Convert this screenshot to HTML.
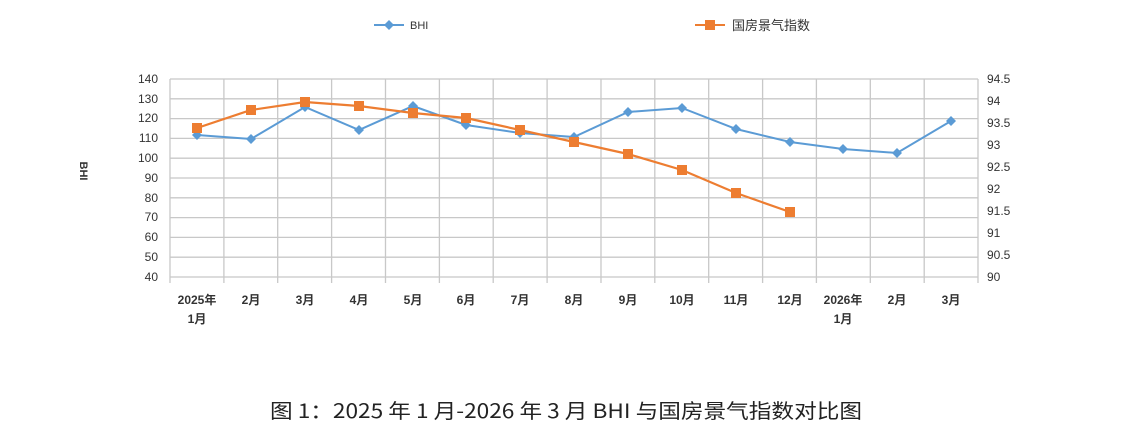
<!DOCTYPE html><html><head><meta charset="utf-8"><style>body{margin:0;background:#fff}</style></head><body>
<svg width="1134" height="438" xmlns="http://www.w3.org/2000/svg" font-family="Liberation Sans, Noto Sans CJK SC, sans-serif">
<rect width="1134" height="438" fill="#fff"/>
<g stroke="#c8c8c8" stroke-width="1.3">
<line x1="170" y1="79" x2="978" y2="79"/><line x1="170" y1="98.8" x2="978" y2="98.8"/><line x1="170" y1="118.6" x2="978" y2="118.6"/><line x1="170" y1="138.4" x2="978" y2="138.4"/><line x1="170" y1="158.2" x2="978" y2="158.2"/><line x1="170" y1="178" x2="978" y2="178"/><line x1="170" y1="197.8" x2="978" y2="197.8"/><line x1="170" y1="217.6" x2="978" y2="217.6"/><line x1="170" y1="237.4" x2="978" y2="237.4"/><line x1="170" y1="257.2" x2="978" y2="257.2"/><line x1="170" y1="277" x2="978" y2="277"/>
<line x1="170" y1="79" x2="170" y2="283"/><line x1="223.9" y1="79" x2="223.9" y2="283"/><line x1="277.7" y1="79" x2="277.7" y2="283"/><line x1="331.6" y1="79" x2="331.6" y2="283"/><line x1="385.5" y1="79" x2="385.5" y2="283"/><line x1="439.4" y1="79" x2="439.4" y2="283"/><line x1="493.2" y1="79" x2="493.2" y2="283"/><line x1="547.1" y1="79" x2="547.1" y2="283"/><line x1="601" y1="79" x2="601" y2="283"/><line x1="654.8" y1="79" x2="654.8" y2="283"/><line x1="708.7" y1="79" x2="708.7" y2="283"/><line x1="762.6" y1="79" x2="762.6" y2="283"/><line x1="816.4" y1="79" x2="816.4" y2="283"/><line x1="870.3" y1="79" x2="870.3" y2="283"/><line x1="924.2" y1="79" x2="924.2" y2="283"/><line x1="978" y1="79" x2="978" y2="283"/>
</g>
<g font-size="12" fill="#333" text-anchor="end">
<text x="158" y="83">140</text><text x="158" y="103">130</text><text x="158" y="122">120</text><text x="158" y="142">110</text><text x="158" y="162">100</text><text x="158" y="182">90</text><text x="158" y="202">80</text><text x="158" y="221">70</text><text x="158" y="241">60</text><text x="158" y="261">50</text><text x="158" y="281">40</text>
</g>
<g font-size="12" fill="#333">
<text x="987" y="83">94.5</text><text x="987" y="105">94</text><text x="987" y="127">93.5</text><text x="987" y="149">93</text><text x="987" y="171">92.5</text><text x="987" y="193">92</text><text x="987" y="215">91.5</text><text x="987" y="237">91</text><text x="987" y="259">90.5</text><text x="987" y="281">90</text>
</g>
<text x="80" y="171" font-size="11" font-weight="bold" fill="#333" transform="rotate(90 80 171)" text-anchor="middle">BHI</text>
<g font-size="12" fill="#333" text-anchor="middle" font-weight="bold">
<text x="197" y="304">2025年</text><text x="197" y="323">1月</text><text x="251" y="304">2月</text><text x="305" y="304">3月</text><text x="359" y="304">4月</text><text x="413" y="304">5月</text><text x="466" y="304">6月</text><text x="520" y="304">7月</text><text x="574" y="304">8月</text><text x="628" y="304">9月</text><text x="682" y="304">10月</text><text x="736" y="304">11月</text><text x="790" y="304">12月</text><text x="843" y="304">2026年</text><text x="843" y="323">1月</text><text x="897" y="304">2月</text><text x="951" y="304">3月</text>
</g>
<polyline fill="none" stroke="#5b9bd5" stroke-width="2" points="197,135 251,139 305,107 359,130 413,106 466,125 520,133 574,137 628,112 682,108 736,129 790,142 843,149 897,153 951,121"/>
<g fill="#5b9bd5">
<polygon points="197,130 202,135 197,140 192,135"/><polygon points="251,134 256,139 251,144 246,139"/><polygon points="305,102 310,107 305,112 300,107"/><polygon points="359,125 364,130 359,135 354,130"/><polygon points="413,101 418,106 413,111 408,106"/><polygon points="466,120 471,125 466,130 461,125"/><polygon points="520,128 525,133 520,138 515,133"/><polygon points="574,132 579,137 574,142 569,137"/><polygon points="628,107 633,112 628,117 623,112"/><polygon points="682,103 687,108 682,113 677,108"/><polygon points="736,124 741,129 736,134 731,129"/><polygon points="790,137 795,142 790,147 785,142"/><polygon points="843,144 848,149 843,154 838,149"/><polygon points="897,148 902,153 897,158 892,153"/><polygon points="951,116 956,121 951,126 946,121"/>
</g>
<polyline fill="none" stroke="#ed7d31" stroke-width="2.2" points="197,128 251,110 305,102 359,106 413,113 466,118 520,130 574,142 628,154 682,170 736,193 790,212"/>
<g fill="#ed7d31">
<rect x="192" y="123" width="10" height="10"/><rect x="246" y="105" width="10" height="10"/><rect x="300" y="97" width="10" height="10"/><rect x="354" y="101" width="10" height="10"/><rect x="408" y="108" width="10" height="10"/><rect x="461" y="113" width="10" height="10"/><rect x="515" y="125" width="10" height="10"/><rect x="569" y="137" width="10" height="10"/><rect x="623" y="149" width="10" height="10"/><rect x="677" y="165" width="10" height="10"/><rect x="731" y="188" width="10" height="10"/><rect x="785" y="207" width="10" height="10"/>
</g>
<line x1="374" y1="25" x2="404" y2="25" stroke="#5b9bd5" stroke-width="2"/><polygon points="389,20 394,25 389,30 384,25" fill="#5b9bd5"/>
<text x="410" y="29" font-size="11" fill="#333">BHI</text>
<line x1="695" y1="25" x2="725" y2="25" stroke="#ed7d31" stroke-width="2"/><rect x="705" y="20" width="10" height="10" fill="#ed7d31"/>
<text x="732" y="30" font-size="13" fill="#333">国房景气指数</text>
<text x="270" y="418" font-size="20" fill="#222" textLength="592" lengthAdjust="spacingAndGlyphs" font-family="WenQuanYi Zen Hei, Noto Sans CJK SC, sans-serif">图 1：2025 年 1 月-2026 年 3 月 BHI 与国房景气指数对比图</text>
</svg>
</body></html>
